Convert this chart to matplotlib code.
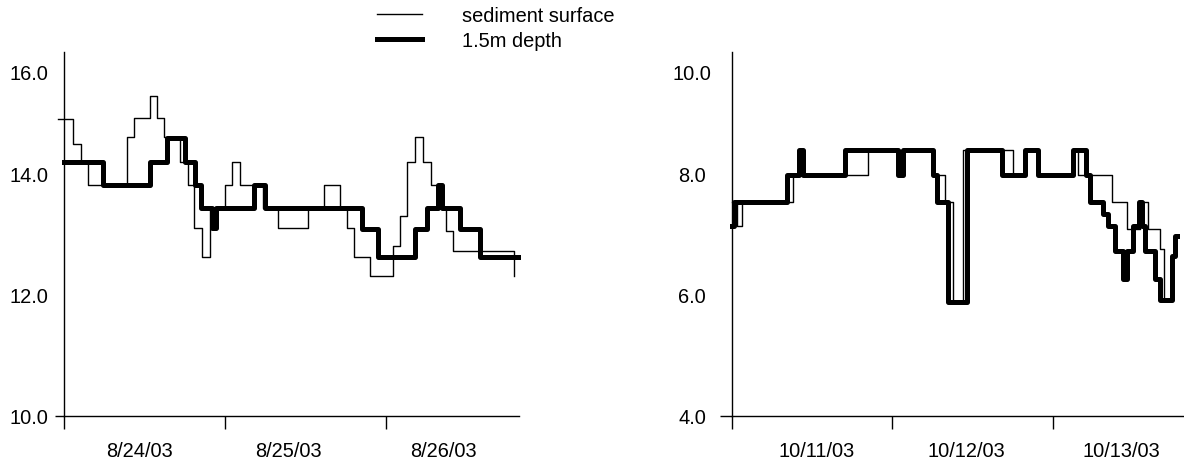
import matplotlib
matplotlib.use("Agg")
import matplotlib.pyplot as plt
from matplotlib.transforms import ScaledTranslation

plt.rcParams['font.family'] = ['Liberation Sans', 'DejaVu Sans']

# August record, hours after 8/24/03 00:00 (step changes)
aug_surf_t = [-0.85, 1.39, 2.53, 3.62, 9.35, 10.48, 12.82, 13.91, 14.95, 17.29,
              18.44, 19.42, 20.53, 21.76, 24.0, 25.09, 26.24, 29.71, 31.95, 36.42,
              38.8, 41.14, 42.14, 43.28, 45.62, 49.0, 50.09, 51.18, 52.32, 53.56,
              54.66, 55.8, 56.9, 58.03, 67.08]
aug_surf_v = [14.89, 14.48, 14.20, 13.80, 14.60, 14.90, 15.27, 14.90, 14.59, 14.19,
              13.80, 13.10, 12.61, 13.42, 13.80, 14.19, 13.80, 13.42, 13.10, 13.42,
              13.80, 13.42, 13.10, 12.61, 12.31, 12.80, 13.30, 14.19, 14.59, 14.19,
              13.80, 13.42, 13.05, 12.72, 12.31]
aug_deep_t = [0, 5.86, 12.82, 15.31, 18.04, 19.53, 20.38, 22.0, 22.6, 28.37,
              29.96, 44.38, 46.85, 52.32, 54.07, 55.8, 56.4, 59.03, 62.0, 67.72]
aug_deep_v = [14.19, 13.80, 14.19, 14.57, 14.19, 13.80, 13.42, 13.10, 13.42, 13.80,
              13.42, 13.08, 12.62, 13.08, 13.42, 13.80, 13.42, 13.08, 12.62, 12.62]

# October record, hours after 10/11/03 00:00
oct_surf_t = [0, 0.75, 1.50, 9.21, 20.43, 30.15, 31.90, 33.14, 34.63, 42.11,
              43.86, 45.85, 51.08, 51.83, 56.82, 59.06, 61.08, 62.29, 63.94, 64.54,
              65.8]
oct_surf_v = [7.53, 7.13, 7.53, 7.97, 8.38, 7.97, 7.53, 5.87, 8.38, 7.97,
              8.38, 7.97, 8.38, 7.97, 7.53, 7.08, 7.53, 7.08, 6.75, 5.92,
              5.92]
oct_deep_t = [0, 0.27, 8.22, 9.99, 10.59, 16.94, 24.91, 25.66, 30.15, 30.65,
              32.39, 35.14, 40.37, 43.86, 45.85, 51.08, 52.98, 53.58, 55.48, 56.31,
              57.32, 58.47, 59.06, 60.05, 60.80, 61.31, 61.80, 63.30, 64.04, 65.79,
              66.29, 66.59]
oct_deep_v = [7.13, 7.53, 7.97, 8.38, 7.97, 8.38, 7.97, 8.38, 7.97, 7.53,
              5.87, 8.38, 7.97, 8.38, 7.97, 8.38, 7.97, 7.53, 7.32, 7.13,
              6.72, 6.25, 6.72, 7.13, 7.53, 7.13, 6.72, 6.25, 5.90, 6.64,
              6.97, 6.97]

aug_days = ['8/24/03', '8/25/03', '8/26/03']
oct_days = ['10/11/03', '10/12/03', '10/13/03']
aug_yticks = [10, 12, 14, 16]
oct_yticks = [4, 6, 8, 10]

FS = 14.4
W, H = 1184, 464

fig = plt.figure(figsize=(W / 100, H / 100), dpi=100)
bot = 1 - 416.7 / H
hgt = (416.7 - 52.7) / H
ax1 = fig.add_axes([64 / W, bot, (519 - 64) / W, hgt])
ax2 = fig.add_axes([731.7 / W, bot, (W - 731.7) / W, hgt])


def draw(ax, st, sv, dt, dv):
    l1, = ax.step(st, sv, where='post', color='black', lw=1.0, clip_on=False,
                  label='sediment surface')
    l2, = ax.step(dt, dv, where='post', color='black', lw=3.6, clip_on=False,
                  label='1.5m depth')
    return l1, l2


def style(ax, xend, yticks, days, day_pos, ylen, ypad):
    ax.set_xlim(0, xend)
    ax.set_ylim(yticks[0], yticks[-1])
    for s in ['top', 'right']:
        ax.spines[s].set_visible(False)
    for s in ['left', 'bottom']:
        ax.spines[s].set_linewidth(1.0)

    ax.set_yticks(yticks)
    ax.set_yticklabels(['%.1f' % v for v in yticks])
    ax.tick_params(axis='y', length=ylen, width=1.0, pad=ypad, labelsize=FS)

    ax.set_xticks([0, 24, 48])
    ax.set_xticklabels([])
    ax.tick_params(axis='x', which='major', length=9.6, width=1.0)
    ax.set_xticks(day_pos, minor=True)
    ax.set_xticklabels(days, minor=True)
    ax.tick_params(axis='x', which='minor', length=0, pad=18.5, labelsize=FS)

    ticks = ax.yaxis.get_major_ticks()
    for tk in ticks:
        tk.label1.set_horizontalalignment('center')
    for tk in ticks[1:]:
        tk.tick1line.set_visible(False)
    # top label sits a bit below the end of the axis
    top = ticks[-1].label1
    top.set_transform(top.get_transform() +
                      ScaledTranslation(0, -0.2, fig.dpi_scale_trans))


h1, h2 = draw(ax1, aug_surf_t, aug_surf_v, aug_deep_t, aug_deep_v)
draw(ax2, oct_surf_t, oct_surf_v, oct_deep_t, oct_deep_v)

style(ax1, 67.8, aug_yticks, aug_days, [11.2, 33.5, 56.6], 6.5, 18.9)
style(ax2, 67.6, oct_yticks, oct_days, [12.7, 35.0, 58.2], 8.6, 19.9)

fig.legend([h1, h2], ['sediment surface', '1.5m depth'], loc='upper left',
           bbox_to_anchor=(376.7 / W, 1 - 7 / H), frameon=False, fontsize=FS,
           handlelength=2.25, handletextpad=2.0, labelspacing=0.3,
           borderpad=0, borderaxespad=0)

fig.savefig('out.png', dpi=100)
